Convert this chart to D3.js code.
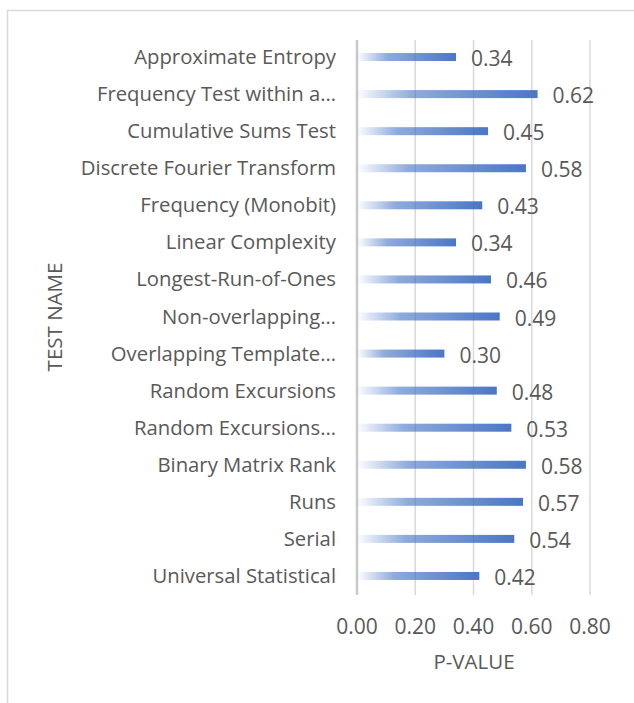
<!DOCTYPE html>
<html>
<head>
<meta charset="utf-8">
<script src="https://cdn.jsdelivr.net/npm/d3@7"></script>
<style>
  body { margin: 0; background: #fff; }
  text { font-family: "Open Sans", sans-serif; fill: #595959; }
</style>
</head>
<body>
<svg id="chart" width="634" height="703"></svg>
<script>
// test names, top to bottom
const tests = [
    "Approximate Entropy",
    "Frequency Test within a\u2026",
    "Cumulative Sums Test",
    "Discrete Fourier Transform",
    "Frequency (Monobit)",
    "Linear Complexity",
    "Longest-Run-of-Ones",
    "Non-overlapping\u2026",
    "Overlapping Template\u2026",
    "Random Excursions",
    "Random Excursions\u2026",
    "Binary Matrix Rank",
    "Runs",
    "Serial",
    "Universal Statistical"
];
const pValues = [0.34, 0.62, 0.45, 0.58, 0.43, 0.34, 0.46, 0.49, 0.30, 0.48, 0.53, 0.58, 0.57, 0.54, 0.42];
const xTicks = [0, 0.2, 0.4, 0.6, 0.8];

let svg = d3.select("#chart");

// chart frame
svg.append("rect")
    .attr("x", 7.5).attr("y", 10.5)
    .attr("width", 640).attr("height", 700)
    .attr("fill", "none")
    .attr("stroke", "#d9d9d9")
    .attr("stroke-width", 1.5);

let x = d3.scaleLinear().domain([0, 0.8]).range([357, 590]);
let y = d3.scaleBand().domain(tests).range([38.5, 594.5]);

// gradient per bar (objectBoundingBox)
let grad = svg.append("defs").append("linearGradient")
    .attr("id", "barGrad")
    .attr("x1", "0").attr("x2", "1").attr("y1", "0").attr("y2", "0");
grad.append("stop").attr("offset", "0").attr("stop-color", "#4472c4").attr("stop-opacity", 0.02);
grad.append("stop").attr("offset", "0.3").attr("stop-color", "#4472c4").attr("stop-opacity", 0.6);
grad.append("stop").attr("offset", "1").attr("stop-color", "#4472c4").attr("stop-opacity", 0.97);

// gridlines
svg.append("g")
    .selectAll("line")
    .data(xTicks)
    .join("line")
    .attr("x1", d => x(d)).attr("x2", d => x(d))
    .attr("y1", 40).attr("y2", 595)
    .attr("stroke", d => d === 0 ? "#c8c8c8" : "#d9d9d9")
    .attr("stroke-width", d => d === 0 ? 2.5 : 1.5);

// bars
svg.append("g")
    .selectAll("rect")
    .data(pValues)
    .join("rect")
    .attr("x", x(0) + 1)
    .attr("y", (d, i) => y(tests[i]) + y.bandwidth() / 2 - 4)
    .attr("width", d => x(d) - x(0) - 1)
    .attr("height", 8)
    .attr("fill", "url(#barGrad)");

// value labels
svg.append("g")
    .selectAll("text")
    .data(pValues)
    .join("text")
    .attr("x", d => x(d) + 15)
    .attr("y", (d, i) => y(tests[i]) + y.bandwidth() / 2 + 9)
    .attr("font-size", 21)
    .text(d => d.toFixed(2));

// category labels
svg.append("g")
    .selectAll("text")
    .data(tests)
    .join("text")
    .attr("x", 336)
    .attr("y", d => y(d) + y.bandwidth() / 2 + 7)
    .attr("text-anchor", "end")
    .attr("font-size", 20.3)
    .text(d => d);

// x tick labels
svg.append("g")
    .selectAll("text")
    .data(xTicks)
    .join("text")
    .attr("x", d => x(d))
    .attr("y", 634)
    .attr("text-anchor", "middle")
    .attr("font-size", 21)
    .text(d => d.toFixed(2));

// axis titles
svg.append("text")
    .attr("x", 474).attr("y", 669)
    .attr("text-anchor", "middle")
    .attr("font-size", 20.5)
    .text("P-VALUE");

svg.append("text")
    .attr("transform", "translate(62,317) rotate(-90)")
    .attr("text-anchor", "middle")
    .attr("font-size", 20.5)
    .text("TEST NAME");
</script>
</body>
</html>
